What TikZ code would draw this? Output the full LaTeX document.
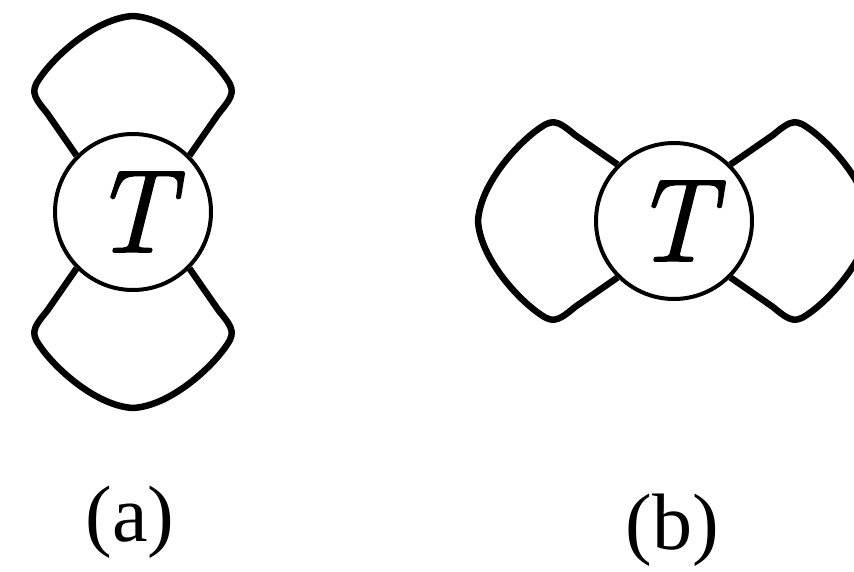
\documentclass[tikz,border=0pt]{standalone}
\usepackage{fontspec}
\setmainfont{Liberation Serif}
\newfontfamily\lmroman{Latin Modern Roman}[FakeBold=1.5]
\begin{document}
\begin{tikzpicture}[x=1pt,y=1pt,
  loopline/.style={line width=6.5pt, line join=round},
  ring/.style={circle, draw, line width=4pt, minimum size=156pt, inner sep=0pt,
    font=\lmroman\itshape\fontsize{118}{118}\selectfont},
  caption/.style={font=\fontsize{80}{80}\selectfont}]
\useasboundingbox (0,-571) rectangle (854,0);
\clip (0,-571) rectangle (854,0);
% (a)
\node[ring] (Ta) at (133,-212) {T\kern2pt};
\begin{scope}[shift={(133,-212)}]
\draw[loopline] (Ta.135) -- (-86,99) .. controls (-102,118) and (-102,122) .. (-91,137)
  .. controls (-74,160) and (-35,194) .. (0,196) .. controls (35,194) and (74,160) .. (91,137)
  .. controls (102,122) and (102,118) .. (86,99) -- (Ta.45);
\end{scope}
\begin{scope}[shift={(133,-212)}, yscale=-1]
\draw[loopline] (Ta.225) -- (-86,99) .. controls (-102,118) and (-102,122) .. (-91,137)
  .. controls (-74,160) and (-35,194) .. (0,196) .. controls (35,194) and (74,160) .. (91,137)
  .. controls (102,122) and (102,118) .. (86,99) -- (Ta.315);
\end{scope}
\node[caption] (la) at (130,-522) {(a)};
% (b)
\node[ring] (Tb) at (674,-221) {T\kern2pt};
\begin{scope}[shift={(674,-221)}, rotate=90]
\draw[loopline] (Tb.225) -- (-86,99) .. controls (-102,118) and (-102,122) .. (-91,137)
  .. controls (-74,160) and (-35,194) .. (0,196) .. controls (35,194) and (74,160) .. (91,137)
  .. controls (102,122) and (102,118) .. (86,99) -- (Tb.135);
\end{scope}
\begin{scope}[shift={(674,-221)}, rotate=-90]
\draw[loopline] (Tb.45) -- (-86,99) .. controls (-102,118) and (-102,122) .. (-91,137)
  .. controls (-74,160) and (-35,194) .. (0,196) .. controls (35,194) and (74,160) .. (91,137)
  .. controls (102,122) and (102,118) .. (86,99) -- (Tb.315);
\end{scope}
\node[caption] (lb) at (672,-530) {(b)};
\end{tikzpicture}
\end{document}
